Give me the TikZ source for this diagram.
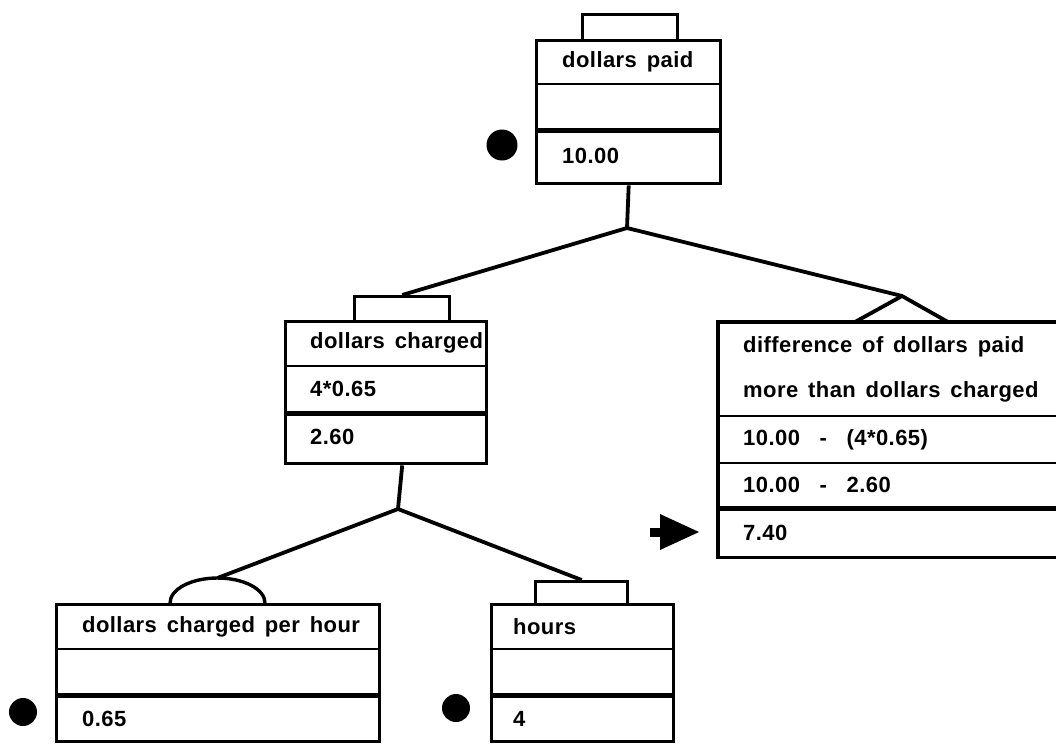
\documentclass[tikz,border=0pt]{standalone}
\usepackage{fontspec}
\setmainfont{Liberation Sans}[LetterSpace=2, WordSpace=1.5]
\begin{document}
\begin{tikzpicture}[x=1pt,y=-1pt,
  boxline/.style={line width=3.4pt},
  sepline/.style={line width=2.8pt},
  thickline/.style={line width=5pt},
  conn/.style={line width=3.8pt},
  box/.style={draw, rectangle, line width=3.4pt, inner sep=0pt, anchor=north west},
  tabbox/.style={draw, rectangle, line width=3.4pt, inner sep=0pt, anchor=north west},
  lbl/.style={anchor=west, inner sep=0pt, font=\fontsize{22}{26}\selectfont\bfseries},
  dot/.style={circle, fill=black, inner sep=0pt}]
\useasboundingbox (0,0) rectangle (1056,744);

% ---- dollars paid ----
\node[box, minimum width=184pt, minimum height=143pt] (dp) at (535,39) {};
\node[tabbox, minimum width=95pt, minimum height=26pt] (dptab) at (581,13) {};
\draw[sepline] (dp.west |- 0,84) -- (dp.east |- 0,84);
\draw[thickline] (dp.west |- 0,130) -- (dp.east |- 0,130);
\node[lbl] (dpt) at (562,62) {dollars paid};
\node[lbl] (dpv) at (562,156) {10.00};
\node[dot, minimum size=31pt] (dpdot) at (502,145) {};

% ---- dollars charged ----
\node[box, minimum width=201pt, minimum height=142pt] (dc) at (284,320) {};
\node[tabbox, minimum width=95pt, minimum height=25pt] (dctab) at (353,295) {};
\draw[sepline] (dc.west |- 0,366) -- (dc.east |- 0,366);
\draw[thickline] (dc.west |- 0,413) -- (dc.east |- 0,413);
\node[lbl] (dct) at (310,343) {dollars charged};
\node[lbl] (dcf) at (310,389) {4*0.65};
\node[lbl] (dcv) at (310,437) {2.60};

% ---- difference (open at right edge) ----
\node[inner sep=0pt, minimum width=340pt, minimum height=235pt, anchor=north west] (df) at (718,322) {};
\draw[boxline] (df.north east) -- (df.north west) -- (df.south west) -- (df.south east);
\draw[sepline] (df.west |- 0,416) -- (df.east |- 0,416);
\draw[sepline] (df.west |- 0,463) -- (df.east |- 0,463);
\draw[thickline] (df.west |- 0,508) -- (df.east |- 0,508);
\node[lbl] (dft1) at (743,347) {difference of dollars paid};
\node[lbl] (dft2) at (743,392) {more than dollars charged};
\node[lbl] (dff1) at (743,440) {10.00 \ - \ (4*0.65)};
\node[lbl] (dff2) at (743,485) {10.00 \ - \ 2.60};
\node[lbl] (dfv) at (743,533) {7.40};
\coordinate (dfapex) at (902,296);
\draw[conn, line join=miter] (855,322) -- (dfapex) -- (948,322);
% arrow
\coordinate (arrtail) at (650,532);
\coordinate (arrtip) at (699,532);
\draw[line width=9pt] (arrtail) -- (668,532);
\fill (arrtip) -- (660,514) -- (660,550) -- cycle;

% ---- dollars charged per hour ----
\node[box, minimum width=323pt, minimum height=137pt] (dh) at (55,603) {};
\draw[sepline] (dh.west |- 0,649) -- (dh.east |- 0,649);
\draw[thickline] (dh.west |- 0,695) -- (dh.east |- 0,695);
\node[lbl] (dht) at (82,627) {dollars charged per hour};
\node[lbl] (dhv) at (82,719) {0.65};
\node[dot, minimum size=28pt] (dhdot) at (23,712) {};
\coordinate (arcL) at (170,603);
\coordinate (arctop) at (217.5,578);
\draw[boxline] (arcL) arc[start angle=180, end angle=0, x radius=47.5pt, y radius=25pt];

% ---- hours ----
\node[box, minimum width=182pt, minimum height=137pt] (hr) at (490,603) {};
\node[tabbox, minimum width=92pt, minimum height=23pt] (hrtab) at (534,580) {};
\draw[sepline] (hr.west |- 0,649) -- (hr.east |- 0,649);
\draw[thickline] (hr.west |- 0,695) -- (hr.east |- 0,695);
\node[lbl] (hrt) at (513,627) {hours};
\node[lbl] (hrv) at (513,719) {4};
\node[dot, minimum size=28pt] (hrdot) at (456,708) {};

% ---- connectors ----
\coordinate (j1) at (627,228);
\coordinate (j2) at (398,509);
\draw[conn, line join=round] (dp.south) -- (j1);
\draw[conn, line join=round] (dctab.north) -- (j1) -- (dfapex);
\draw[conn] (dctab.north |- dc.south) -- (j2);
\draw[conn, line join=round] (arctop) -- (j2) -- (hrtab.north);
\end{tikzpicture}
\end{document}
